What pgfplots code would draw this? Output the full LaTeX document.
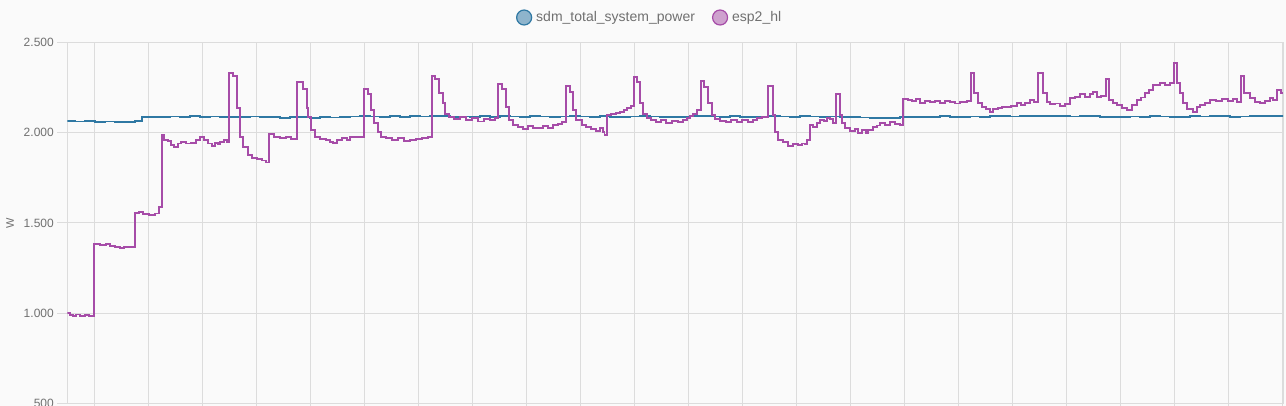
\documentclass[border=0pt]{standalone}
\usepackage{fontspec}
\setmainfont{Liberation Sans}
\usepackage{pgfplots}
\pgfplotsset{compat=1.18}

\definecolor{bg}{HTML}{FAFAFA}
\definecolor{gridc}{HTML}{DCDCDC}
\definecolor{txt}{HTML}{707070}
\definecolor{sdmline}{HTML}{2F78A3}
\definecolor{sdmfill}{HTML}{8EB4CC}
\definecolor{espline}{HTML}{A64CA8}
\definecolor{espfill}{HTML}{CEA1CE}

\begin{document}
\begin{tikzpicture}
\fill[bg] (0,0) rectangle (1286bp,406bp);
\useasboundingbox (0,0) rectangle (1286bp,406bp);

\begin{axis}[
  at={(67.3bp,2.7bp)}, anchor=south west,
  scale only axis,
  width=1215.7bp, height=360.8bp,
  xmin=67.3, xmax=1283,
  ymin=500, ymax=2500,
  ytick={500,1000,1500,2000,2500},
  xtick={94.3,148.3,202.3,256.3,310.3,364.3,418.3,472.3,526.3,580.3,634.3,688.3,742.3,796.3,850.3,904.3,958.3,1012.3,1066.3,1120.3,1174.3,1228.3,1282.3},
  xticklabels={},
  grid=major,
  grid style={gridc, line width=0.8bp},
  axis line style={gridc, line width=0.8bp},
  tick style={gridc, line width=0.8bp},
  tick align=outside,
  major tick length=10bp,
  xtick pos=bottom, ytick pos=left,
  scaled y ticks=false,
  /pgf/number format/1000 sep={.},
  /pgf/number format/assume math mode=true,
  tick label style={font=\fontsize{12bp}{14bp}\selectfont, text=txt},
  ylabel={W},
  ylabel style={at={(axis description cs:-0.0471,0.5)}, anchor=center, rotate=0,
    font=\fontsize{11bp}{13bp}\selectfont, text=txt},
  legend columns=2,
  legend style={at={(axis description cs:0.479,1)}, anchor=center, yshift=25bp,
    draw=none, fill=none, font=\fontsize{14bp}{16bp}\selectfont, text=txt,
    /tikz/every odd column/.append style={column sep=2bp},
    /tikz/every even column/.append style={column sep=15bp}},
  every axis plot/.append style={line width=1.9bp, line join=miter},
]

\addplot[const plot, sdmline,
  legend image code/.code={\draw[fill=sdmfill,draw=sdmline,line width=1.2bp] (7.5bp,0bp) circle (7.5bp);}]
coordinates {
(67.3,2066)(75,2062)(85,2064)(95,2060)(105,2062)(115,2058)(125,2061)(135,2065)
(141.7,2085)(150,2089)(160,2086)(170,2090)(180,2088)(190,2092)(200,2088)(210,2090)
(220,2085)(230,2089)(240,2086)(250,2090)(260,2087)(270,2085)(280,2083)(290,2088)
(300,2085)(310,2083)(320,2086)(330,2084)(340,2088)(350,2090)(360,2092)(370,2090)
(380,2088)(390,2091)(400,2089)(410,2092)(420,2090)(430,2093)(440,2091)(450,2089)
(460,2090)(470,2088)(480,2091)(490,2089)(500,2092)(510,2090)(520,2088)(530,2091)
(540,2090)(550,2088)(560,2090)(570,2092)(580,2090)(590,2088)(600,2091)(610,2089)
(620,2087)(630,2090)(640,2092)(650,2090)(660,2088)(670,2086)(680,2089)(690,2091)
(700,2093)(710,2090)(720,2088)(730,2091)(740,2089)(750,2087)(760,2090)(770,2092)
(780,2090)(790,2089)(800,2091)(810,2090)(820,2088)(830,2090)(840,2088)(850,2086)
(860,2084)(870,2082)(880,2081)(890,2083)(900,2086)(910,2088)(920,2087)(930,2089)
(940,2091)(950,2089)(960,2088)(970,2090)(980,2089)(990,2091)(1000,2092)(1010,2090)
(1020,2091)(1030,2093)(1040,2094)(1050,2092)(1060,2091)(1070,2090)(1080,2092)(1090,2091)
(1100,2089)(1110,2088)(1120,2089)(1130,2090)(1140,2089)(1150,2091)(1160,2090)(1170,2088)
(1180,2089)(1190,2091)(1200,2090)(1210,2092)(1220,2091)(1230,2089)(1240,2090)(1250,2091)
(1260,2092)(1270,2094)(1283,2092)
};
\addlegendentry{sdm\_total\_system\_power}

\addplot[const plot, espline,
  legend image code/.code={\draw[fill=espfill,draw=espline,line width=1.2bp] (7.5bp,0bp) circle (7.5bp);}]
coordinates {
(67.3,999)(70,990)(73,984)(76,992)(80,986)(85,990)(89,985)
(94.3,1381)(100,1377)(106,1385)(110,1372)(115,1366)(120,1362)(124,1368)
(134.7,1556)(139,1560)(143,1550)(149,1546)(155,1552)(159,1590)
(161.7,1987)(164,1960)(168,1952)(171,1932)(174,1920)(178,1940)(181,1948)(186,1940)
(191,1944)(196,1960)(200,1975)(204,1960)(208,1940)(211.7,1926)(215,1945)(218,1935)
(220,1950)(224,1960)(227,1950)
(229.3,2333)(233.3,2314)(236.7,2135)(240,1976)(243,1921)(248,1876)(252,1862)
(256.7,1852)(262,1846)(266,1835)
(269.3,1993)(274,1975)(280,1970)(286,1975)(291,1965)
(296.7,2279)(302.7,2240)(306.7,2135)(308,2089)(311,2015)(315,1978)(320,1965)
(326,1962)(330,1950)(333.3,1942)(337,1962)(342,1970)(347,1962)(350,1978)(357,1975)
(364.3,2240)(368.3,2214)(370.7,2126)(374,2052)(378,2005)(381,1978)(386,1970)
(392,1962)(398,1970)(404,1955)(410,1960)(416,1965)(422,1970)(428.3,1978)
(431.7,2316)(435,2296)(439.3,2222)(442.7,2163)(445,2106)(449,2085)(454,2075)
(460,2089)(466,2070)(472,2080)(478,2062)(484,2075)(490,2068)(495,2080)
(498.3,2270)(501.7,2240)(505.7,2144)(509.3,2070)(513.3,2043)(518,2030)(523,2020)
(528,2035)(533,2028)(538,2024)(543,2035)(548,2028)(553,2043)(558,2050)(561.7,2061)
(566,2261)(570,2224)(573,2126)(576,2070)(581.7,2043)(586,2030)(591,2020)(596,2010)
(600,2024)(603,2005)(604.5,1987)
(606.7,2098)(611,2105)(616,2110)(620,2117)(624,2125)(627.3,2135)(631,2148)
(634,2311)(637.3,2283)(640,2163)(643.3,2106)(646.7,2080)(651,2070)(656,2060)
(661,2070)(666,2055)(672,2065)(678,2058)(683,2070)(686.7,2080)(690,2095)(693.3,2106)(697,2126)
(700.7,2289)(704,2255)(708.3,2163)(711.7,2098)(715,2075)(720,2065)(726,2060)
(731,2070)(737,2058)(742,2068)(748,2060)(753,2072)(756.7,2080)(762,2085)(766.7,2089)
(768.3,2261)(772.7,2098)(775,2005)(778.3,1960)(783.3,1950)(788.3,1926)(793,1937)
(798,1930)(802,1940)(805,1935)(806.7,1960)(810,2043)(813.3,2033)(817,2055)(820,2070)
(824,2065)(826.7,2080)(830,2075)(833.3,2052)
(836,2213)(840,2098)(841.7,2052)(845,2024)(850,2010)(855,2020)(858,2000)(862,2015)
(866,2000)(868.3,2015)(873.3,2033)(877,2040)(880,2052)(885,2045)(890,2061)(895,2050)(900,2043)
(903.3,2185)(908,2180)(912,2175)(916,2185)(920,2165)(925,2178)(930,2170)(935,2175)
(940,2165)(945,2175)(950,2168)(955,2162)(960,2172)(967,2175)
(970.7,2329)(974,2220)(978.3,2167)(981.7,2144)(986,2130)(990,2117)(993.3,2130)
(998,2135)(1002,2140)(1006.7,2144)(1011,2150)(1016.7,2163)(1021,2155)(1025,2165)
(1030,2182)(1034,2172)
(1038.3,2329)(1042.7,2222)(1046.7,2172)(1050,2157)(1055,2162)(1060,2150)(1065,2158)
(1070,2190)(1075,2200)(1080,2213)(1085,2200)(1090,2215)(1093.3,2227)(1096.7,2199)(1101,2205)
(1106,2296)(1109.3,2182)(1113,2165)(1116.7,2155)(1121.7,2135)(1126.7,2126)(1131.7,2155)
(1136.7,2182)(1141,2195)(1145,2218)(1149,2235)(1153.3,2264)(1160,2276)(1165,2265)(1170,2273)
(1174,2385)(1176.7,2273)(1180,2218)(1183.3,2163)(1186.7,2130)(1193.3,2117)(1197,2140)
(1200,2155)(1205,2165)(1210,2182)(1216,2175)(1221.7,2185)(1228,2178)(1233,2185)(1236.7,2172)
(1240.7,2316)(1244,2218)(1250,2190)(1255,2172)(1260,2163)(1265,2175)(1270,2190)(1273,2180)
(1276.7,2237)(1280.7,2218)(1283,2218)
};
\addlegendentry{esp2\_hl}

\end{axis}
\end{tikzpicture}
\end{document}
